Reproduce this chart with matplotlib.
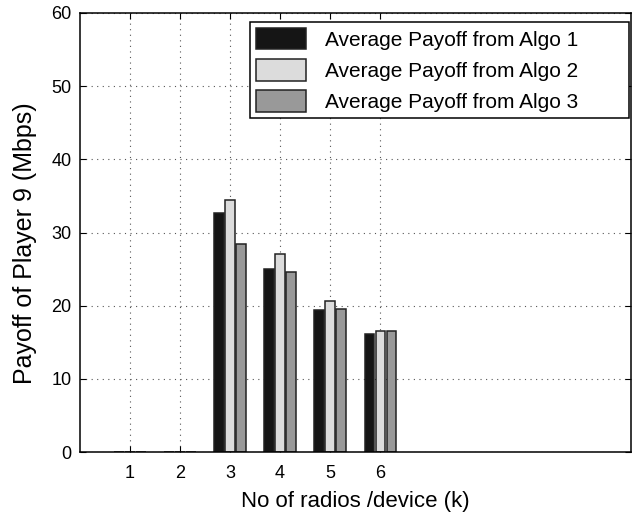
"""Grouped bar chart: payoff of player 9 vs number of radios per device."""
import numpy as np
import matplotlib
matplotlib.use("Agg")
import matplotlib.pyplot as plt

radios = [1, 2, 3, 4, 5, 6]
algo1 = [0, 0, 32.6, 25.0, 19.4, 16.2]
algo2 = [0, 0, 34.5, 27.0, 20.6, 16.6]
algo3 = [0, 0, 28.4, 24.6, 19.6, 16.5]
labels = ["Average Payoff from Algo 1", "Average Payoff from Algo 2",
          "Average Payoff from Algo 3"]
colors = ["#151515", "#dcdcdc", "#999999"]

plt.rcParams["font.family"] = ["Liberation Sans", "DejaVu Sans"]

fig = plt.figure(figsize=(6.43, 5.15), dpi=100)
ax = fig.add_axes([0.124, 0.122, 0.857, 0.853])

x = np.array(radios, dtype=float)
width = 0.19
offsets = [-0.22, 0.0, 0.22]
for vals, off, col, lab in zip([algo1, algo2, algo3], offsets, colors, labels):
    ax.bar(x + off, vals, width=width, color=col, edgecolor="#222222",
           linewidth=1.1, label=lab, zorder=3)

ax.set_xlim(0, 11)
ax.set_ylim(0, 60)
ax.set_xticks(radios)
ax.set_yticks(np.arange(0, 61, 10))
ax.tick_params(direction="in", top=True, right=True, labelsize=13,
               length=4, width=0.8)
ax.tick_params(axis="x", pad=9)
ax.tick_params(axis="y", pad=6)
ax.grid(True, linestyle=(0, (1, 4)), color="#555555", linewidth=0.8, zorder=0)
for s in ax.spines.values():
    s.set_linewidth(1.1)
    s.set_zorder(4)

ax.set_xlabel("No of radios /device (k)", fontsize=16, labelpad=7)
ax.set_ylabel("Payoff of Player 9 (Mbps)", fontsize=18)
ax.yaxis.set_label_coords(-0.078, 0.476)

leg = ax.legend(loc="upper left", bbox_to_anchor=(0.3085, 0.75, 0.688, 0.2295),
                mode="expand", fontsize=15, handlelength=2.4,
                handleheight=1.2, fancybox=False, framealpha=1,
                edgecolor="black", borderaxespad=0, labelspacing=0.45,
                handletextpad=0.9, borderpad=0.3)
leg.get_frame().set_linewidth(1.1)

fig.savefig("out.png", dpi=100)
